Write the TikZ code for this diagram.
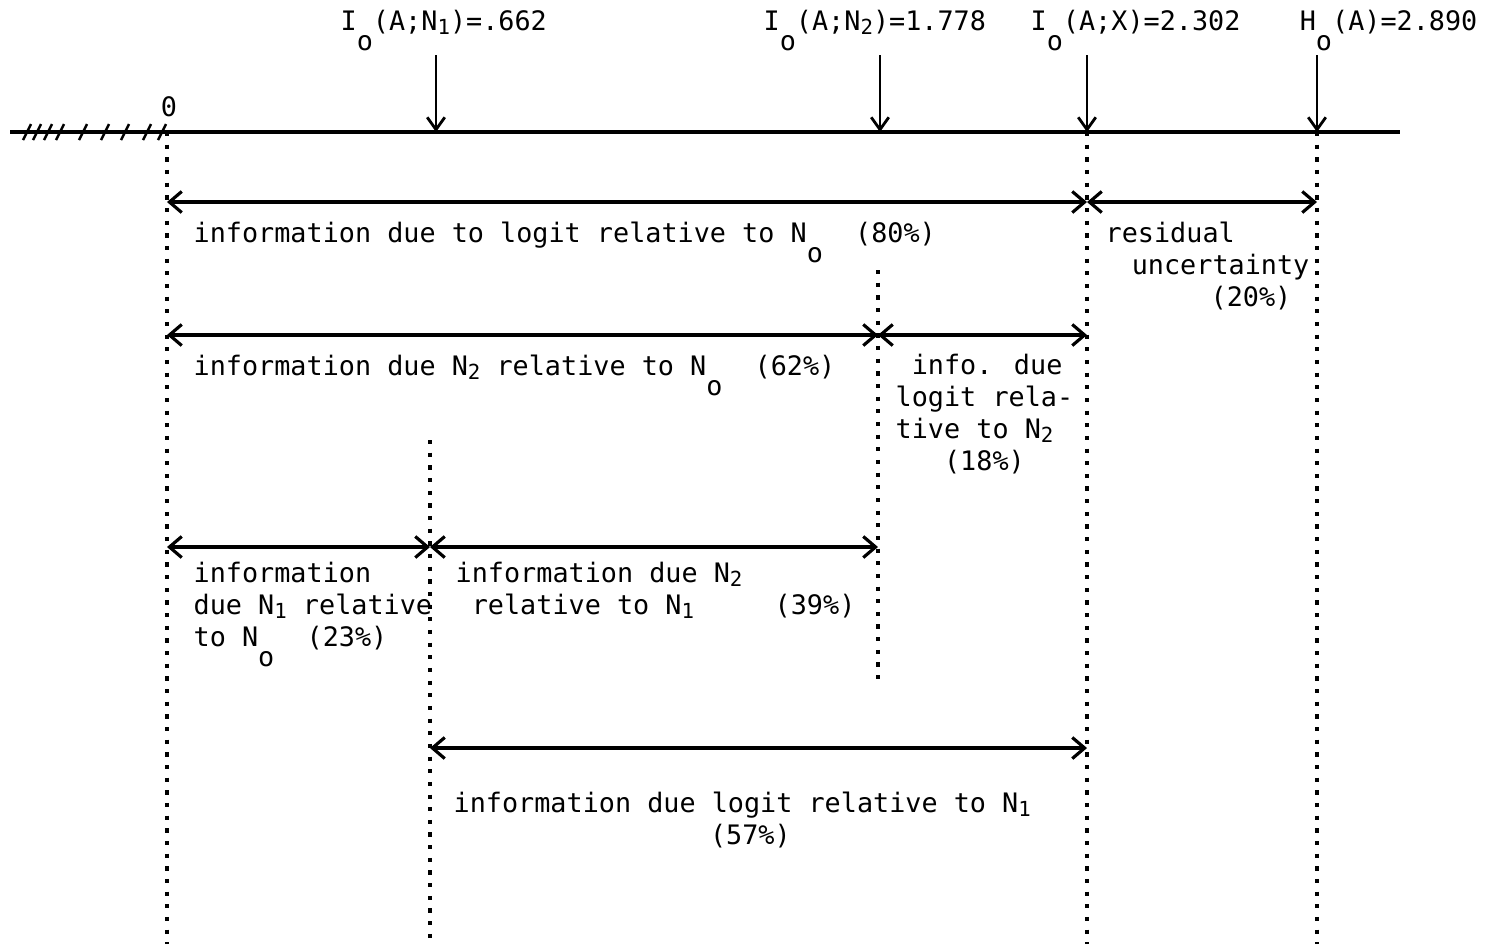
\documentclass[tikz,border=0pt]{standalone}
\usepackage{fontspec}
\setmainfont{DejaVu Sans Mono}
\usetikzlibrary{arrows.meta}
\newcommand\lowo{\raisebox{-1.4ex}{o}}
\newcommand\dnx[1]{\raisebox{-0.3ex}{\fontsize{5.9pt}{6pt}\selectfont #1}}
\begin{document}
\begin{tikzpicture}[x=0.01cm,y=-0.01cm,
  lbl/.style={font=\fontsize{7.62pt}{9.1pt}\selectfont, inner sep=0pt},
  axisline/.style={line width=0.9pt},
  hatch/.style={line width=0.7pt},
  dim/.style={line width=0.9pt, {Straight Barb[length=3.5pt,width=6pt]}-{Straight Barb[length=3.5pt,width=6pt]}},
  ptr/.style={line width=0.8pt, -{Straight Barb[length=3.5pt,width=5pt]}},
  guide/.style={line width=1pt, dash pattern=on 1.2pt off 2.4pt}]
\useasboundingbox (0,0) rectangle (1494,944);
% axis points
\coordinate (ax0) at (10,132);
\coordinate (ax9) at (1400,132);
\coordinate (a0) at (167,132);
\coordinate (a1) at (436,132);
\coordinate (a2) at (880,132);
\coordinate (a3) at (1087,132);
\coordinate (a4) at (1317,132);
% axis
\draw[axisline] (ax0) -- (ax9);
\foreach \x in {27,37,48,60,83,105,125,147,162}
  \draw[hatch] (\x-4,140) -- (\x+4,124);
\node[lbl, anchor=base] (zero) at (169,116) {0};
% top labels
\node[lbl, anchor=base west] (t1) at (340,30) {I\lowo(A;N\dnx{1})=.662};
\node[lbl, anchor=base west] (t2) at (763,30) {I\lowo(A;N\dnx{2})=1.778};
\node[lbl, anchor=base west] (t3) at (1030,30) {I\lowo(A;X)=2.302};
\node[lbl, anchor=base east] (t4) at (1478,30) {H\lowo(A)=2.890};
\coordinate (p1) at (436,55);
\coordinate (p2) at (880,55);
\coordinate (p3) at (1087,55);
\coordinate (p4) at (1317,55);
\draw[ptr] (p1) -- (a1);
\draw[ptr] (p2) -- (a2);
\draw[ptr] (p3) -- (a3);
\draw[ptr] (p4) -- (a4);
% vertical guides
\coordinate (g0b) at (167,944);
\coordinate (g3b) at (1087,944);
\coordinate (g4b) at (1317,944);
\coordinate (g2t) at (878,270);
\coordinate (g2b) at (878,680);
\coordinate (g1t) at (430,440);
\coordinate (g1b) at (430,944);
\draw[guide] (a0) -- (g0b);
\draw[guide] (a3) -- (g3b);
\draw[guide] (a4) -- (g4b);
\draw[guide] (g2t) -- (g2b);
\draw[guide] (g1t) -- (g1b);
% row 1
\coordinate (r1a) at (167,202);
\coordinate (r1b) at (1087,202);
\coordinate (r1c) at (1317,202);
\draw[dim] (r1a) -- (r1b);
\draw[dim] (r1b) -- (r1c);
\node[lbl, anchor=base west] (l1) at (193,242) {information due to logit relative to N\lowo~~(80\%)};
\node[lbl, anchor=base west] (l2a) at (1105,242) {residual};
\node[lbl, anchor=base east] (l2b) at (1310,274) {uncertainty};
\node[lbl, anchor=base east] (l2c) at (1292,306) {(20\%)};
% row 2
\coordinate (r2a) at (167,335);
\coordinate (r2b) at (878,335);
\coordinate (r2c) at (1087,335);
\draw[dim] (r2a) -- (r2b);
\draw[dim] (r2b) -- (r2c);
\node[lbl, anchor=base west] (l3) at (193,375) {information due N\dnx{2} relative to N\lowo~~(62\%)};
\node[lbl, anchor=base west, align=left] (l4) at (895,470) {~info. due\\logit rela-\\tive to N\dnx{2}\\~~~(18\%)};
% row 3
\coordinate (r3a) at (167,547);
\coordinate (r3b) at (430,547);
\coordinate (r3c) at (878,547);
\draw[dim] (r3a) -- (r3b);
\draw[dim] (r3b) -- (r3c);
\node[lbl, anchor=base west, align=left] (l5) at (193,646) {information\\due N\dnx{1} relative\\to N\lowo~~(23\%)};
\node[lbl, anchor=base west, align=left] (l6) at (455,614) {information due N\dnx{2}\\~relative to N\dnx{1}~~~~~(39\%)};
% row 4
\coordinate (r4a) at (430,748);
\coordinate (r4b) at (1087,748);
\draw[dim] (r4a) -- (r4b);
\node[lbl, anchor=base west, align=center] (l7) at (453,844) {information due logit relative to N\dnx{1}\\~(57\%)};
\end{tikzpicture}
\end{document}
